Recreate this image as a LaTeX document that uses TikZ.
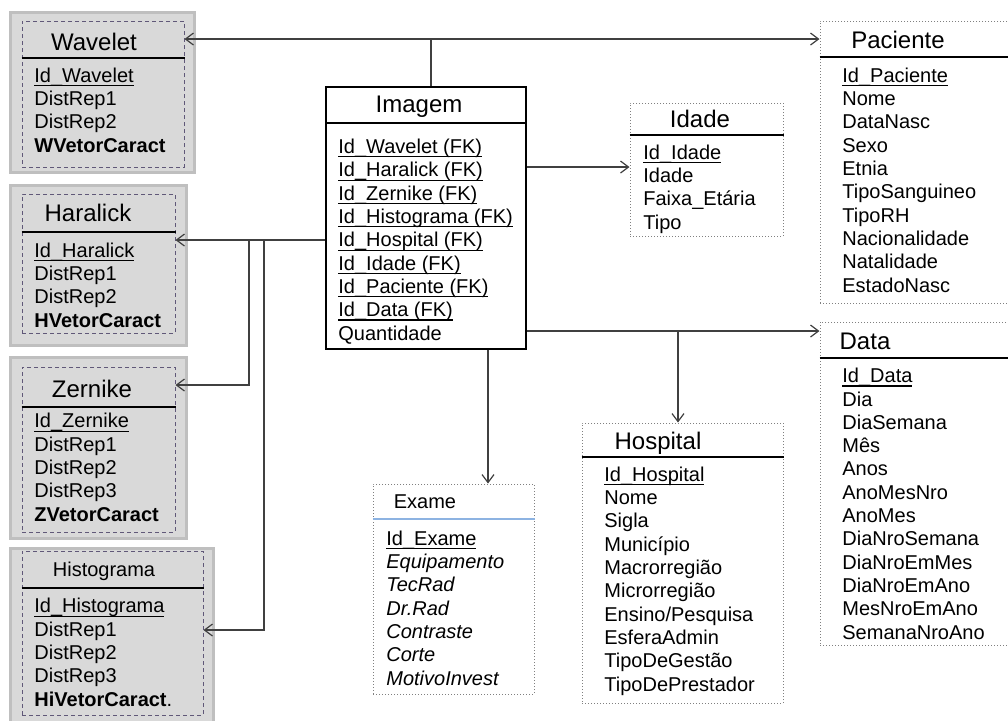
\documentclass[tikz,border=0pt]{standalone}
\usepackage{fontspec}
\setmainfont{Liberation Sans}
\usetikzlibrary{arrows.meta,fit}

\definecolor{lnk}{HTML}{404040}
\definecolor{shd}{HTML}{D9D9D9}
\definecolor{shdedge}{HTML}{BFBFBF}
\definecolor{dsh}{HTML}{605878}
\definecolor{hdblue}{HTML}{8DB3E2}

% primary key: underline close to the baseline
\newcommand{\pk}[1]{\setbox0\hbox{#1}\rlap{\rule[-1.9pt]{\wd0}{0.55pt}}\box0}

\tikzset{
  tbl/.style={draw=black, line width=0.6pt, inner sep=0pt},
  dottbl/.style={draw=gray, densely dotted, line width=0.5pt, inner sep=0pt},
  shadebox/.style={draw=shdedge, fill=shd, line width=1.5pt, inner sep=0pt},
  dashbox/.style={draw=dsh, dash pattern=on 2pt off 1.5pt, line width=0.5pt, inner sep=0pt},
  ttl/.style={anchor=base, inner sep=0pt, font=\fontsize{12}{14}\selectfont},
  smallttl/.style={ttl, font=\fontsize{10}{12}\selectfont},
  % placed at the baseline of the last line
  fields/.style={anchor=base west, align=left, inner sep=0pt, font=\fontsize{10}{11.65}\selectfont},
  hd/.style={line width=0.6pt},
  link/.style={draw=lnk, line width=0.6pt, ->},
}

\begin{document}
\begin{tikzpicture}[x=0.5pt,y=-0.5pt,>={Straight Barb[length=4pt,width=6pt]}]
    \useasboundingbox (0,0) rectangle (1008,720);
    \clip (0,0) rectangle (1008,720);

    % descriptor tables (shaded)
    \node[shadebox, fit={(10,12) (194,172)}] (wav) {};
    \node[dashbox, fit={(22,21) (184,167)}] (wavin) {};
    \draw[hd] (wavin.west |- 0,58) -- (wavin.east |- 0,58);
    \node[ttl] (wavt) at (94,50) {Wavelet};
    \node[fields] (wavf) at (34,152) {\pk{Id\_Wavelet}\\DistRep1\\DistRep2\\\textbf{WVetorCaract}};

    \node[shadebox, fit={(10,185) (186,345)}] (har) {};
    \node[dashbox, fit={(22,194) (175,333)}] (harin) {};
    \draw[hd] (harin.west |- 0,232) -- (harin.east |- 0,232);
    \node[ttl] (hart) at (88,221) {Haralick};
    \node[fields] (harf) at (34,327) {\pk{Id\_Haralick}\\DistRep1\\DistRep2\\\textbf{HVetorCaract}};

    \node[shadebox, fit={(10,357) (186,538)}] (zer) {};
    \node[dashbox, fit={(22,367) (175,532)}] (zerin) {};
    \draw[hd] (zerin.west |- 0,407) -- (zerin.east |- 0,407);
    \node[ttl] (zert) at (92,397) {Zernike};
    \node[fields] (zerf) at (34,521) {\pk{Id\_Zernike}\\DistRep1\\DistRep2\\DistRep3\\\textbf{ZVetorCaract}};

    \node[shadebox, fit={(10,548) (213,740)}] (his) {};
    \node[dashbox, fit={(22,551) (203,715)}] (hisin) {};
    \draw[hd] (hisin.west |- 0,588) -- (hisin.east |- 0,588);
    \node[smallttl] (hist) at (104,576) {Histograma};
    \node[fields] (hisf) at (34,706) {\pk{Id\_Histograma}\\DistRep1\\DistRep2\\DistRep3\\\textbf{HiVetorCaract}.};

    % fact table
    \node[tbl, fit={(326,87) (526,349)}] (ima) {};
    \draw[hd] (ima.west |- 0,123) -- (ima.east |- 0,123);
    \node[ttl] (imat) at (419,112) {Imagem};
    \node[fields] (imaf) at (338,340) {\pk{Id\_Wavelet (FK)}\\\pk{Id\_Haralick (FK)}\\\pk{Id\_Zernike (FK)}\\\pk{Id\_Histograma (FK)}\\\pk{Id\_Hospital (FK)}\\\pk{Id\_Idade (FK)}\\\pk{Id\_Paciente (FK)}\\\pk{Id\_Data (FK)}\\Quantidade};

    % dimension tables
    \node[dottbl, fit={(630,103) (783,236)}] (ida) {};
    \draw[hd] (ida.west |- 0,135) -- (ida.east |- 0,135);
    \node[ttl] (idat) at (700,127) {Idade};
    \node[fields] (idaf) at (643,229) {\pk{Id\_Idade}\\Idade\\Faixa\_Etária\\Tipo};

    \node[dottbl, fit={(820,21) (1020,303)}] (pac) {};
    \draw[hd] (pac.west |- 0,57) -- (pac.east |- 0,57);
    \node[ttl] (pact) at (898,48) {Paciente};
    \node[fields] (pacf) at (842,292) {\pk{Id\_Paciente}\\Nome\\DataNasc\\Sexo\\Etnia\\TipoSanguineo\\TipoRH\\Nacionalidade\\Natalidade\\EstadoNasc};

    \node[dottbl, fit={(820,322) (1020,645)}] (dat) {};
    \draw[hd] (dat.west |- 0,358) -- (dat.east |- 0,358);
    \node[ttl] (datt) at (865,349) {Data};
    \node[fields] (datf) at (842,639) {\pk{Id\_Data}\\Dia\\DiaSemana\\Mês\\Anos\\AnoMesNro\\AnoMes\\DiaNroSemana\\DiaNroEmMes\\DiaNroEmAno\\MesNroEmAno\\SemanaNroAno};

    \node[dottbl, fit={(582,423) (783,703)}] (hos) {};
    \draw[hd] (hos.west |- 0,457) -- (hos.east |- 0,457);
    \node[ttl] (host) at (658,449) {Hospital};
    \node[fields] (hosf) at (604,691) {\pk{Id\_Hospital}\\Nome\\Sigla\\Município\\Macrorregião\\Microrregião\\Ensino/Pesquisa\\EsferaAdmin\\TipoDeGestão\\TipoDePrestador};

    \node[dottbl, fit={(373,484) (534,694)}] (exa) {};
    \draw[hd, draw=hdblue] (exa.west |- 0,519) -- (exa.east |- 0,519);
    \node[smallttl] (exat) at (425,508) {Exame};
    \node[fields, font=\fontsize{10}{11.65}\selectfont\itshape] (exaf) at (386,685) {{\upshape\pk{Id\_Exame}}\\Equipamento\\TecRad\\Dr.Rad\\Contraste\\Corte\\MotivoInvest};

    % connectors
    \coordinate (jt) at (431,39);
    \draw[link,-] (jt |- ima.north) -- (jt);
    \draw[link] (jt) -- (jt -| wavin.east);
    \draw[link] (jt) -- (jt -| pac.west);
    \draw[link] (ima.west |- 0,240) -- (harin.east |- 0,240);
    \coordinate (jz) at (249,240);
    \coordinate (jh) at (264,240);
    \draw[link] (jz) |- (zerin.east |- 0,385);
    \draw[link] (jh) |- (hisin.east |- 0,630);
    \draw[link] (ima.east |- 0,167) -- (ida.west |- 0,167);
    \draw[link] (ima.east |- 0,331) -- (dat.west |- 0,331);
    \coordinate (jd) at (678,331);
    \draw[link] (jd) -- (jd |- hos.north);
    \draw[link] (ima.south -| 488,0) -- (exa.north -| 488,0);
\end{tikzpicture}
\end{document}
